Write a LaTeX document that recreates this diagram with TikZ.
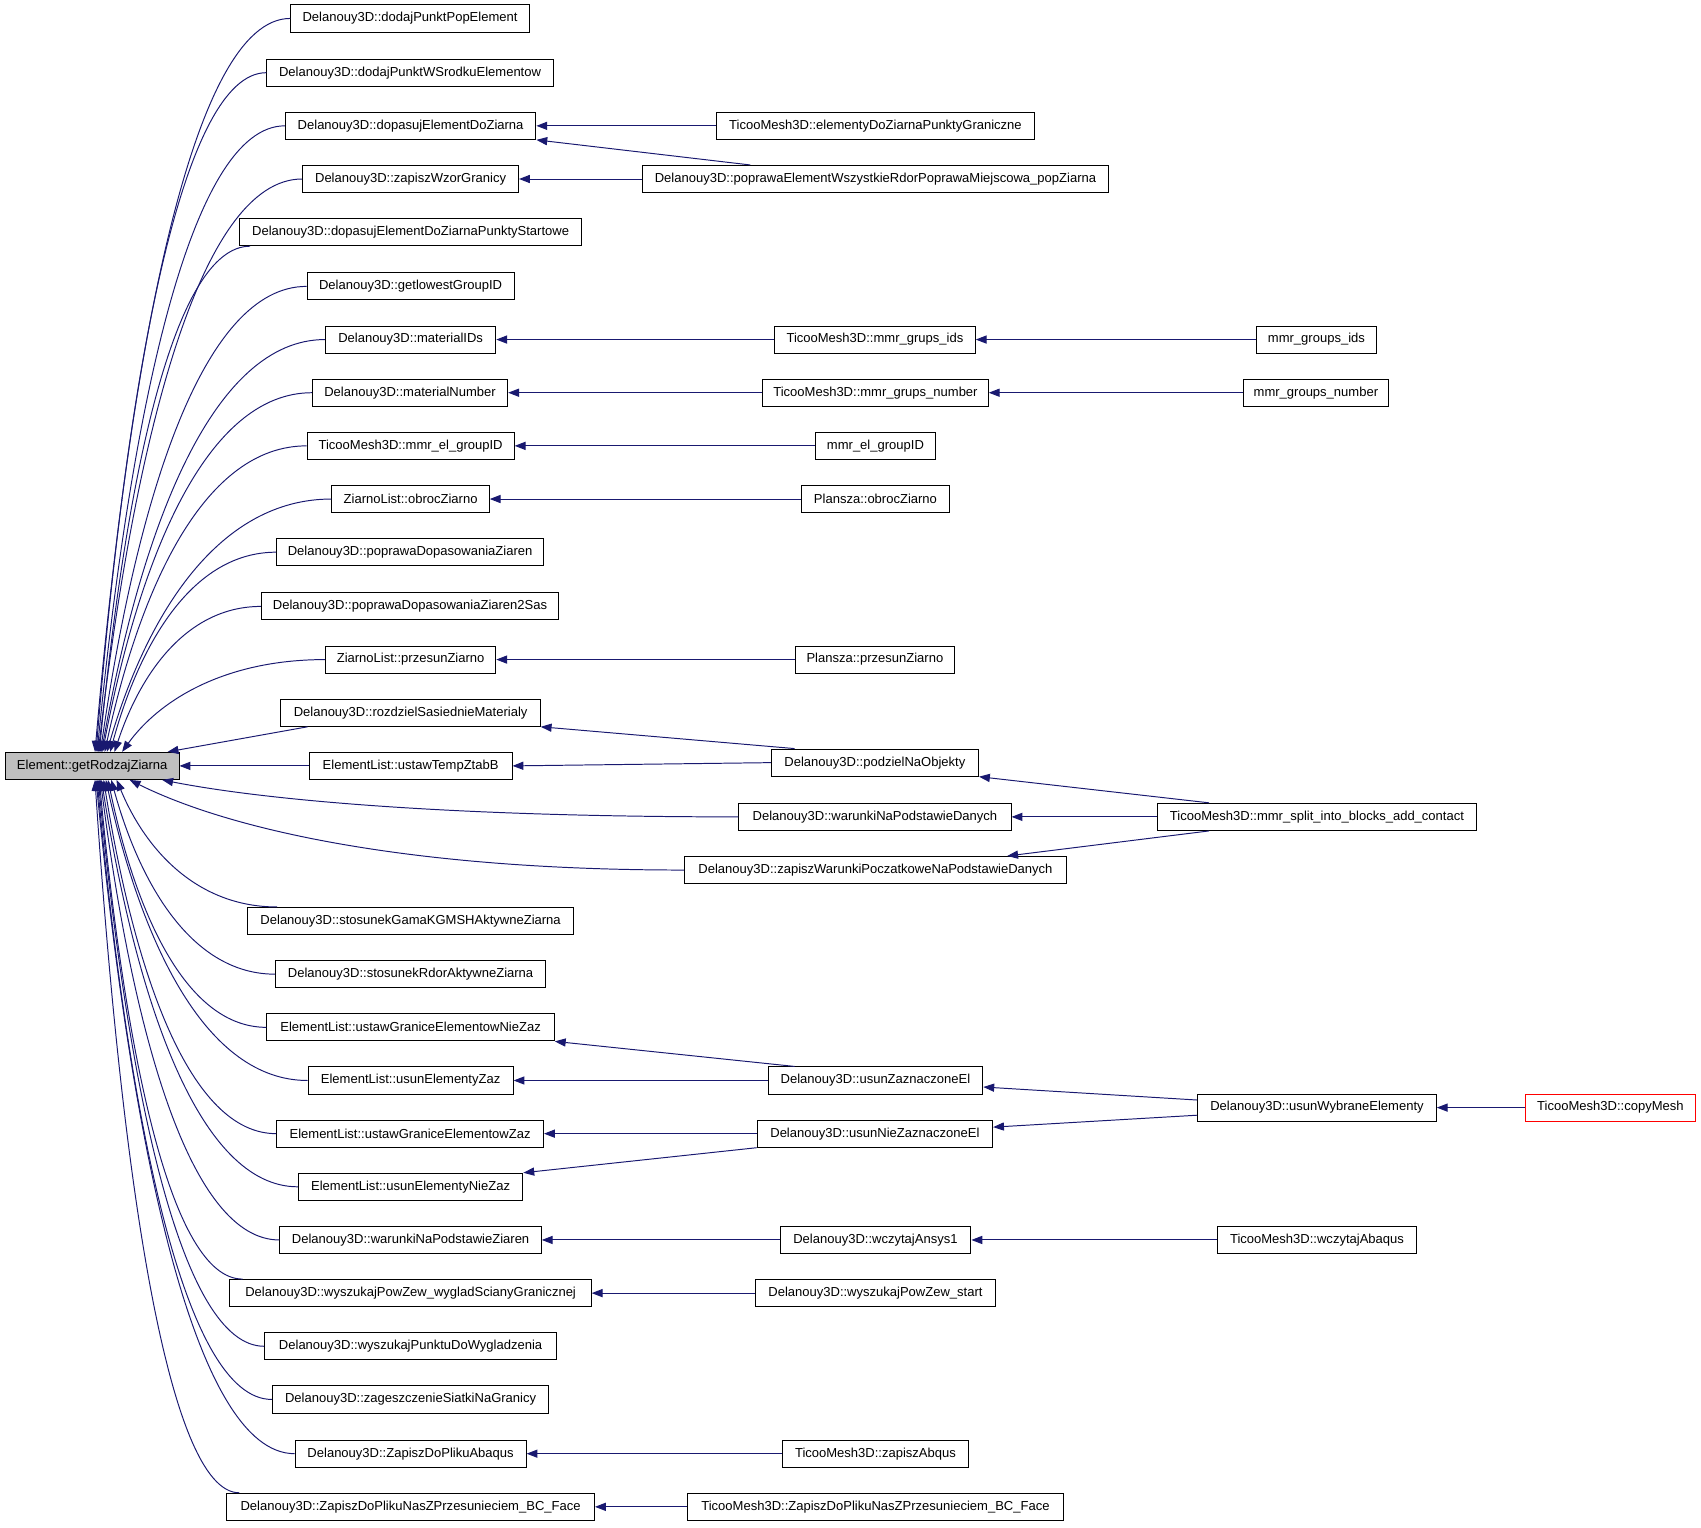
\documentclass[tikz,border=0pt]{standalone}
\usepackage{fontspec}
\setmainfont{Liberation Sans}
\usetikzlibrary{arrows.meta,calc}
\definecolor{edgecol}{HTML}{191970}
\definecolor{maingray}{HTML}{BFBFBF}
\tikzset{
  box/.style={draw=black, line width=0.9pt, fill=white, minimum height=25pt, inner sep=0pt, font=\fontsize{12pt}{14pt}\selectfont, anchor=center},
  arr/.style={draw=edgecol, line width=0.9pt, {Triangle[length=10pt,width=7.5pt]}-}
}
\newcommand\nd[5]{\node[box, minimum width=#4pt] (#1) at (#2,#3) {#5};}
% curve from main (top/bottom, x offset) to a point on the caller's left side
\newcommand\callee[3]{%
  \draw[arr] let \p1=(#1), \p2=($(m.#3 west)+(#2,0)$) in
    (\p2) .. controls ({\x2+0.18*(\x1-\x2)},{\y2+0.55*(\y1-\y2)}) and ({\x1-0.5*(\x1-\x2)},{\y1}) .. (\p1);}
\begin{document}
\begin{tikzpicture}[x=1pt,y=-1pt]
\useasboundingbox (0,0) rectangle (1568,1408.5);
% main node
\node[box, fill=maingray, minimum width=160pt] (m) at (85,706) {Element::getRodzajZiarna};
% column 1
\nd{n1}{378}{17}{220}{Delanouy3D::dodajPunktPopElement}
\nd{n2}{378}{67}{264}{Delanouy3D::dodajPunktWSrodkuElementow}
\nd{n3}{378.5}{116}{231}{Delanouy3D::dopasujElementDoZiarna}
\nd{n4}{378.5}{165}{199}{Delanouy3D::zapiszWzorGranicy}
\nd{n5}{378.5}{214}{315}{Delanouy3D::dopasujElementDoZiarnaPunktyStartowe}
\nd{n6}{378.5}{264}{191}{Delanouy3D::getlowestGroupID}
\nd{n7}{378.5}{313}{157}{Delanouy3D::materialIDs}
\nd{n8}{378}{362}{180}{Delanouy3D::materialNumber}
\nd{n9}{378.5}{411}{191}{TicooMesh3D::mmr\_el\_groupID}
\nd{n10}{378.5}{460}{145}{ZiarnoList::obrocZiarno}
\nd{n11}{378}{509}{246}{Delanouy3D::poprawaDopasowaniaZiaren}
\nd{n12}{378}{559}{274}{Delanouy3D::poprawaDopasowaniaZiaren2Sas}
\nd{n13}{378.5}{608}{157}{ZiarnoList::przesunZiarno}
\nd{n14}{378.5}{657}{239}{Delanouy3D::rozdzielSasiednieMaterialy}
\nd{n15}{378.5}{706}{187}{ElementList::ustawTempZtabB}
\nd{n16}{806.5}{753}{251}{Delanouy3D::warunkiNaPodstawieDanych}
\nd{n17}{807}{802}{352}{Delanouy3D::zapiszWarunkiPoczatkoweNaPodstawieDanych}
\nd{n18}{378.5}{849}{301}{Delanouy3D::stosunekGamaKGMSHAktywneZiarna}
\nd{n19}{378.5}{898}{249}{Delanouy3D::stosunekRdorAktywneZiarna}
\nd{n20}{378.5}{947}{265}{ElementList::ustawGraniceElementowNieZaz}
\nd{n21}{378.5}{996}{189}{ElementList::usunElementyZaz}
\nd{n22}{378}{1045}{246}{ElementList::ustawGraniceElementowZaz}
\nd{n23}{378.5}{1094}{207}{ElementList::usunElementyNieZaz}
\nd{n24}{378.5}{1143}{241}{Delanouy3D::warunkiNaPodstawieZiaren}
\nd{n25}{378.5}{1192}{333}{Delanouy3D::wyszukajPowZew\_wygladScianyGranicznej}
\nd{n26}{378.5}{1241}{269}{Delanouy3D::wyszukajPunktuDoWygladzenia}
\nd{n27}{378.5}{1290}{255}{Delanouy3D::zageszczenieSiatkiNaGranicy}
\nd{n28}{378.5}{1340}{213}{Delanouy3D::ZapiszDoPlikuAbaqus}
\nd{n29}{378.5}{1389}{339}{Delanouy3D::ZapiszDoPlikuNasZPrzesunieciem\_BC\_Face}
% column 2
\nd{a1}{807}{116}{294}{TicooMesh3D::elementyDoZiarnaPunktyGraniczne}
\nd{a2}{807}{165}{430}{Delanouy3D::poprawaElementWszystkieRdorPoprawaMiejscowa\_popZiarna}
\nd{a3}{806.5}{313}{185}{TicooMesh3D::mmr\_grups\_ids}
\nd{a4}{807}{362}{208}{TicooMesh3D::mmr\_grups\_number}
\nd{a5}{807}{411}{110}{mmr\_el\_groupID}
\nd{a6}{807}{460}{136}{Plansza::obrocZiarno}
\nd{a7}{806.5}{608}{147}{Plansza::przesunZiarno}
\nd{a8}{806.5}{703}{191}{Delanouy3D::podzielNaObjekty}
\nd{a9}{807}{996}{198}{Delanouy3D::usunZaznaczoneEl}
\nd{a10}{806.5}{1045}{217}{Delanouy3D::usunNieZaznaczoneEl}
\nd{a11}{807}{1143}{176}{Delanouy3D::wczytajAnsys1}
\nd{a12}{807}{1192}{222}{Delanouy3D::wyszukajPowZew\_start}
\nd{a13}{807}{1340}{172}{TicooMesh3D::zapiszAbqus}
\nd{a14}{807}{1389}{346}{TicooMesh3D::ZapiszDoPlikuNasZPrzesunieciem\_BC\_Face}
% column 3
\nd{b1}{1213.5}{313}{111}{mmr\_groups\_ids}
\nd{b2}{1213}{362}{134}{mmr\_groups\_number}
\nd{b3}{1214}{753}{294}{TicooMesh3D::mmr\_split\_into\_blocks\_add\_contact}
\nd{b4}{1214}{1021}{220}{Delanouy3D::usunWybraneElementy}
\nd{b5}{1214}{1143}{184}{TicooMesh3D::wczytajAbaqus}
% column 4
\node[box, draw=red, minimum width=157pt] (c1) at (1484.5,1021) {TicooMesh3D::copyMesh};
% edges into main node
\callee{n1.west}{83}{north}
\callee{n2.west}{84}{north}
\callee{n3.west}{85}{north}
\callee{n4.west}{86}{north}
\callee{$(n5.south west)+(10,0)$}{87}{north}
\callee{n6.west}{88}{north}
\callee{n7.west}{89}{north}
\callee{n8.west}{90}{north}
\callee{n9.west}{92}{north}
\callee{n10.west}{94}{north}
\callee{n11.west}{97}{north}
\callee{n12.west}{101}{north}
\callee{n13.west}{108}{north}
\draw[arr] ($(m.north west)+(150,0)$) -- ($(n14.south west)+(25,0)$);
\draw[arr] (m.east) -- (n15.west);
\callee{n16.west}{145}{south}
\callee{n17.west}{115}{south}
\callee{$(n18.north west)+(28,0)$}{103}{south}
\callee{n19.west}{98}{south}
\callee{n20.west}{95}{south}
\callee{n21.west}{93}{south}
\callee{n22.west}{91}{south}
\callee{n23.west}{89}{south}
\callee{n24.west}{88}{south}
\callee{$(n25.north west)+(12,0)$}{87}{south}
\callee{n26.west}{86}{south}
\callee{n27.west}{85}{south}
\callee{n28.west}{84}{south}
\callee{$(n29.north west)+(12,0)$}{83}{south}
% other edges
\draw[arr] (n3.east) -- (a1.west);
\draw[arr] (n3.south east) -- ($(a2.north west)+(100,0)$);
\draw[arr] (n4.east) -- (a2.west);
\draw[arr] (n7.east) -- (a3.west);
\draw[arr] (a3.east) -- (b1.west);
\draw[arr] (n8.east) -- (a4.west);
\draw[arr] (a4.east) -- (b2.west);
\draw[arr] (n9.east) -- (a5.west);
\draw[arr] (n10.east) -- (a6.west);
\draw[arr] (n13.east) -- (a7.west);
\draw[arr] (n14.south east) -- ($(a8.north west)+(22,0)$);
\draw[arr] (n15.east) -- (a8.west);
\draw[arr] (a8.south east) -- ($(b3.north west)+(48,0)$);
\draw[arr] (n16.east) -- (b3.west);
\draw[arr] ($(n17.north east)+(-55,0)$) -- ($(b3.south west)+(48,0)$);
\draw[arr] (n20.south east) -- ($(a9.north west)+(25,0)$);
\draw[arr] (n21.east) -- (a9.west);
\draw[arr] (n22.east) -- (a10.west);
\draw[arr] (n23.north east) -- (a10.south west);
\draw[arr] ($(a9.east)+(0,6)$) -- ($(b4.west)+(0,-7)$);
\draw[arr] ($(a10.east)+(0,-6)$) -- ($(b4.west)+(0,7)$);
\draw[arr] (b4.east) -- (c1.west);
\draw[arr] (n24.east) -- (a11.west);
\draw[arr] (a11.east) -- (b5.west);
\draw[arr] (n25.east) -- (a12.west);
\draw[arr] (n28.east) -- (a13.west);
\draw[arr] (n29.east) -- (a14.west);
\end{tikzpicture}
\end{document}
